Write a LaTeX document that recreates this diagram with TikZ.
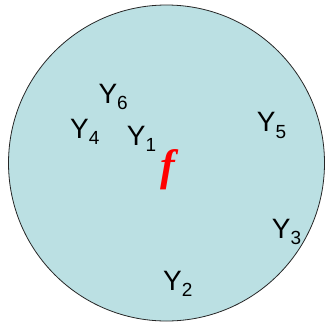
\documentclass[tikz,border=0pt]{standalone}
\usepackage{fontspec}
\setmainfont{Liberation Sans}
\newfontfamily\fserif{Liberation Serif}
\definecolor{disk}{HTML}{BBE0E3}
\newcommand\ylab[1]{Y\raisebox{-6.5pt}{\fontsize{19}{19}\selectfont #1}}
\begin{document}
\begin{tikzpicture}[x=1pt,y=-1pt,
  lab/.style={anchor=base west,inner sep=0pt,font=\fontsize{28}{28}\selectfont},
  flab/.style={anchor=base west,inner sep=0pt,text=red,font=\fserif\bfseries\itshape\fontsize{44}{44}\selectfont}]
\useasboundingbox (0,0) rectangle (328,322);
\node[circle,draw=black!85,line width=0.8pt,fill=disk,minimum size=316pt,inner sep=0pt] (disk) at (166.5,163) {};
\node[lab] (y6) at (98.3,103.3) {\ylab{6}};
\node[lab] (y4) at (70,138.3) {\ylab{4}};
\node[lab] (y1) at (126.7,145) {\ylab{1}};
\node[lab] (y5) at (256.7,131.7) {\ylab{5}};
\node[lab] (y3) at (271.7,238.3) {\ylab{3}};
\node[lab] (y2) at (163,290) {\ylab{2}};
\node[flab] (f) at (160,180) {f};
\end{tikzpicture}
\end{document}
